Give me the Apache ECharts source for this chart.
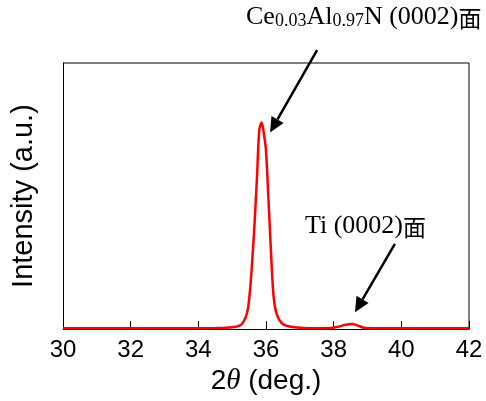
<!DOCTYPE html>
<html lang="en">
<head>
  <meta charset="UTF-8">
  <title>XRD</title>
  <script src="https://cdn.jsdelivr.net/npm/echarts@6/dist/echarts.min.js"></script>
  <style>
    * { margin: 0; padding: 0; }
    body { background: #fff; }
    #main { width: 486px; height: 401px; }
  </style>
</head>
<body>
  <div id="main"></div>
  <script>
    // 2theta (deg.) and intensity (arbitrary, 0-100)
    var twoTheta = [30, 33, 34.5, 35.0, 35.28, 35.47, 35.62, 35.73, 35.80, 35.87, 35.94, 36.00, 36.07, 36.14, 36.22, 36.32, 36.51, 37.0, 37.8, 38.1, 38.35, 38.53, 38.7, 38.93, 39.5, 42]
    var intensity = [0.3, 0.3, 0.4, 0.7, 1.8, 8, 31, 56, 74.6, 77.6, 73.2, 67, 49.6, 31, 12.9, 5.5, 1.8, 0.5, 0.3, 0.8, 1.6, 1.9, 1.4, 0.4, 0.3, 0.3]
    var xTicks = [30, 32, 34, 36, 38, 40, 42]

    var points = twoTheta.map(function (x, i) { return [x, intensity[i]] })

    var myChart = echarts.init(document.getElementById('main'))

    var option = {
      animation: false,
      grid: { left: 63, right: 17, top: 63, bottom: 66, show: false },
      xAxis: {
        type: 'value',
        min: xTicks[0],
        max: xTicks[xTicks.length - 1],
        interval: 2,
        name: '{n|2}{t|θ}{n| (deg.)}',
        nameLocation: 'middle',
        nameGap: 33,
        nameTextStyle: {
          rich: {
            n: { fontFamily: 'Liberation Sans', fontSize: 28, color: '#000' },
            t: { fontFamily: 'Liberation Serif', fontStyle: 'italic', fontSize: 29, color: '#000' }
          }
        },
        axisLine: { show: true, lineStyle: { color: '#000', width: 1 } },
        axisTick: { show: true, inside: true, length: 8, lineStyle: { color: '#000' } },
        axisLabel: { color: '#000', fontFamily: 'Liberation Sans', fontSize: 24, margin: 9 },
        splitLine: { show: false }
      },
      yAxis: {
        type: 'value',
        min: 0,
        max: 100,
        name: 'Intensity (a.u.)',
        nameLocation: 'middle',
        nameGap: 25,
        nameTextStyle: { color: '#000', fontFamily: 'Liberation Sans', fontSize: 29 },
        axisLine: { show: true, lineStyle: { color: '#000', width: 1 } },
        axisTick: { show: false },
        axisLabel: { show: false },
        splitLine: { show: false }
      },
      series: [{
        type: 'line',
        data: points,
        smooth: 0.3,
        showSymbol: false,
        lineStyle: { color: '#ff0000', width: 2.5 },
        z: 3
      }]
    }
    myChart.setOption(option)

    // frame (top and right sides) and annotations
    var tl = myChart.convertToPixel({ gridIndex: 0 }, [30, 100])
    var br = myChart.convertToPixel({ gridIndex: 0 }, [42, 0])

    function arrow(from, to) {
      var a = myChart.convertToPixel({ gridIndex: 0 }, from)
      var b = myChart.convertToPixel({ gridIndex: 0 }, to)
      var dx = b[0] - a[0], dy = b[1] - a[1]
      var len = Math.sqrt(dx * dx + dy * dy)
      var ux = dx / len, uy = dy / len
      var hl = 15, hw = 7
      var bx = b[0] - ux * hl, by = b[1] - uy * hl
      return [{
        type: 'line',
        shape: { x1: a[0], y1: a[1], x2: bx, y2: by },
        style: { stroke: '#000', lineWidth: 2.5 }
      }, {
        type: 'polygon',
        shape: { points: [[b[0], b[1]], [bx - uy * hw, by + ux * hw], [bx + uy * hw, by - ux * hw]] },
        style: { fill: '#000' }
      }]
    }

    var serif = 'Liberation Serif'
    var cjk = 'Noto Sans CJK SC'
    var graphics = [{
      type: 'polyline',
      shape: { points: [[tl[0], tl[1]], [br[0], tl[1]], [br[0], br[1]]] },
      style: { stroke: '#000', lineWidth: 1, fill: null }
    }, {
      type: 'text',
      left: 246, top: 4,
      style: {
        text: '{m|Ce}{s|0.03}{m|Al}{s|0.97}{m|N (0002)}{c|面}',
        rich: {
          m: { fontFamily: serif, fontSize: 26, color: '#000', verticalAlign: 'bottom' },
          s: { fontFamily: serif, fontSize: 18, color: '#000', verticalAlign: 'bottom' },
          c: { fontFamily: cjk, fontSize: 23, color: '#000', verticalAlign: 'bottom' }
        }
      }
    }, {
      type: 'text',
      left: 305, top: 213,
      style: {
        text: '{m|Ti (0002)}{c|面}',
        rich: {
          m: { fontFamily: serif, fontSize: 26, color: '#000', verticalAlign: 'bottom' },
          c: { fontFamily: cjk, fontSize: 23, color: '#000', verticalAlign: 'bottom' }
        }
      }
    }]
    graphics = graphics.concat(arrow([37.51, 104.8], [36.12, 73.9]))
    graphics = graphics.concat(arrow([39.81, 32], [38.63, 6.3]))

    myChart.setOption({ graphic: graphics })
  </script>
</body>
</html>
